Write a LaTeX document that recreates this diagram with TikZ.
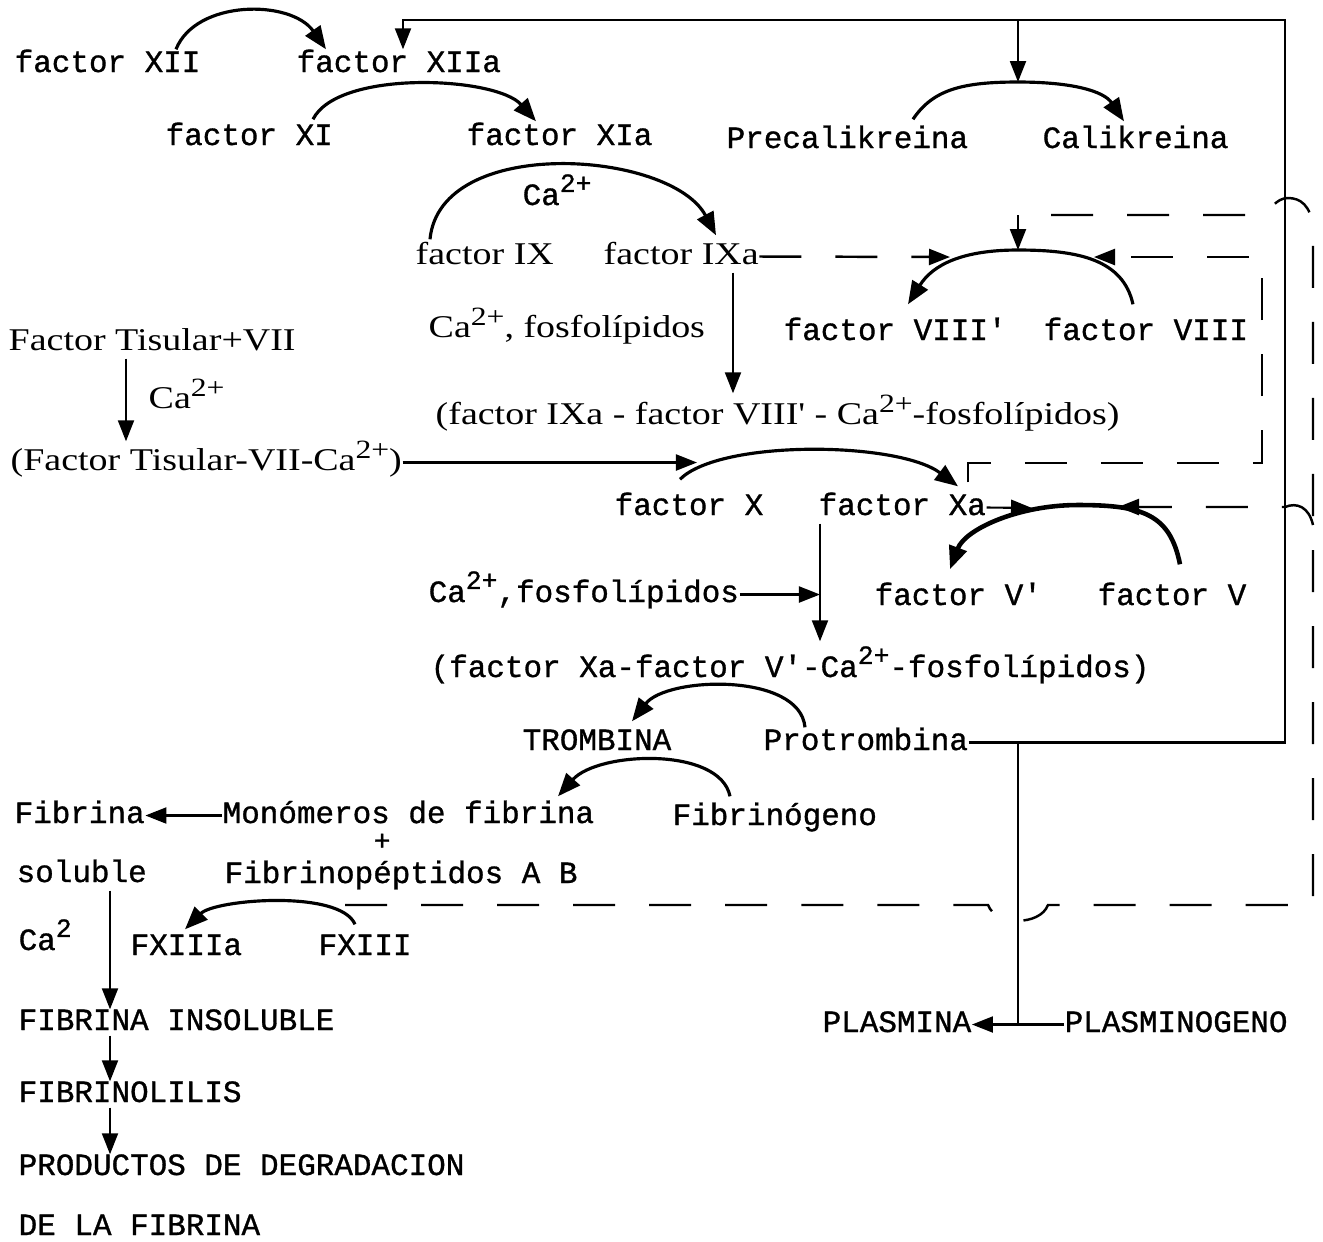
\documentclass[tikz,border=0pt]{standalone}
\usepackage{fontspec}
\newfontfamily\twfam[FakeBold=1]{Liberation Mono}
\newfontfamily\srfam[FakeStretch=1.2]{Liberation Serif}
\newcommand{\twfont}{\twfam\fontsize{8.8}{10}\selectfont}
\newcommand{\srfont}{\srfam\fontsize{9}{10}\selectfont}
\newcommand{\ionsup}[1]{\raisebox{0.8ex}{\fontsize{7.5}{8}\selectfont #1}}
\usetikzlibrary{
  calc,          % Coordinate math
  arrows.meta    % Filled arrow tips
}

\begin{document}
\begin{tikzpicture}[x=0.01cm, y=-0.01cm,
  tw/.style={anchor=base west, inner sep=0pt, text height=0.2cm, text depth=0.05cm, font=\twfont},
  sr/.style={tw, font=\srfont},
  flow/.style={semithick, -{Triangle[length=0.21cm,width=0.16cm]}},
  conv/.style={line width=0.9pt, -{Triangle[length=0.23cm,width=0.18cm]}},
  dflow/.style={line width=0.7pt, dash pattern=on 0.42cm off 0.34cm},
  dflowa/.style={dflow, -{Triangle[length=0.21cm,width=0.16cm]}}]
\useasboundingbox (0,0) rectangle (1323,1241);

\node[tw] (f12) at (14,72) {factor XII};
\node[tw] (f12a) at (296,72) {factor XIIa};
\node[tw] (f11) at (165,145) {factor XI};
\node[tw] (f11a) at (466,145) {factor XIa};
\node[tw] (prek) at (726,148) {Precalikreina};
\node[tw] (kal) at (1042,148) {Calikreina};
\node[tw] (ca1) at (522,205) {Ca\ionsup{2+}};
\node[sr] (f9) at (415,264) {factor IX};
\node[sr] (f9a) at (603,264) {factor IXa};
\node[sr] (cafa) at (428,337) {Ca\ionsup{2+}, fosfolípidos};
\node[tw] (f8p) at (783,340) {factor VIII'};
\node[tw] (f8) at (1043,340) {factor VIII};
\node[sr] (ft7) at (8,350) {Factor Tisular+VII};
\node[sr] (ca2) at (148,408) {Ca\ionsup{2+}};
\node[sr] (ten) at (435,424) {(factor IXa - factor VIII' - Ca\ionsup{2+}-fosfolípidos)};
\node[sr] (ftc) at (10,470) {(Factor Tisular-VII-Ca\ionsup{2+})};
\node[tw] (f10) at (614,515) {factor X};
\node[tw] (f10a) at (818,515) {factor Xa};
\node[tw] (cafb) at (428,602) {Ca\ionsup{2+},fosfolípidos};
\node[tw] (f5p) at (874,605) {factor V'};
\node[tw] (f5) at (1097,605) {factor V};
\node[tw] (pro) at (430,677) {(factor Xa-factor V'-Ca\ionsup{2+}-fosfolípidos)};
\node[tw] (trom) at (522,750) {TROMBINA};
\node[tw] (prot) at (763,750) {Protrombina};
\node[tw] (fibr) at (14,823) {Fibrina};
\node[tw] (mono) at (222,823) {Monómeros de fibrina};
\node[tw] (fbg) at (672,825) {Fibrinógeno};
\node[tw, text height=0.1cm, font=\twfam\fontsize{8}{9}\selectfont] (plus) at (373,850) {+};
\node[tw] (sol) at (16,882) {soluble};
\node[tw] (fpep) at (224,883) {Fibrinopéptidos A B};
\node[tw] (ca3) at (18,950) {Ca\ionsup{2}};
\node[tw] (f13a) at (130,955) {FXIIIa};
\node[tw] (f13) at (318,955) {FXIII};
\node[tw] (fins) at (18,1030) {FIBRINA INSOLUBLE};
\node[tw] (plasm) at (822,1032) {PLASMINA};
\node[tw] (plg) at (1064,1032) {PLASMINOGENO};
\node[tw] (flis) at (18,1102) {FIBRINOLILIS};
\node[tw] (pdf) at (18,1175) {PRODUCTOS DE DEGRADACION};
\node[tw] (pdf2) at (18,1235) {DE LA FIBRINA};

\coordinate (cR) at (1285,20);
\coordinate (kpeak) at (1018,82);
\coordinate (v8peak) at (1018,250);
\coordinate (v8top) at (1018,215);
\coordinate (v8l) at (950,257);
\coordinate (v8r) at (1094,257);
\coordinate (xbox) at (1262,463);
\coordinate (x10l) at (697,462);
\coordinate (v5peak) at (1078,505);
\coordinate (v5l) at (1032,508);
\coordinate (v5r) at (1118,507);
\coordinate (f13hook) at (345,905);
\coordinate (ixdrop) at ([shift={(130,3)}]f9a.south west);
\coordinate (tfdrop) at ([shift={(118,3)}]ft7.south west);
\coordinate (xadrop) at ([shift={(2,3)}]f10a.south west);
\coordinate (soldrop) at ([shift={(94,3)}]sol.south west);

\draw[conv] ([shift={(162,-2)}]f12.north west) .. controls +(20,-50) and +(-35,-50) .. ([shift={(30,-2)}]f12a.north west);
\draw[conv] ([shift={(148,-5)}]f11.north west) .. controls +(25,-50) and +(-40,-45) .. ([shift={(70,-3)}]f11a.north west);
\draw[conv] ([shift={(187,-8)}]prek.north west) .. controls +(20,-30) and +(-55,0) .. (kpeak) .. controls +(55,0) and +(-20,-30) .. ([shift={(82,-6)}]kal.north west);
\draw[conv] ([shift={(15,-4)}]f9.north west) .. controls +(10,-105) and +(-45,-85) .. ([shift={(113,-8)}]f9a.north west);
\draw[conv] ([shift={(90,-15)}]f8.north west) .. controls +(-10,-45) and +(60,0) .. (v8peak) .. controls +(-55,0) and +(25,-40) .. ([shift={(125,-15)}]f8p.north west);
\draw[conv] ([shift={(66,-15)}]f10.north west) .. controls +(40,-40) and +(-60,-45) .. ([shift={(140,-8)}]f10a.north west);
\draw[conv, line width=1.3pt] ([shift={(83,-20)}]f5.north west) .. controls +(-10,-50) and +(65,0) .. (v5peak) .. controls +(-60,0) and +(15,-40) .. ([shift={(76,-15)}]f5p.north west);
\draw[conv] ([shift={(42,-2)}]prot.north west) .. controls +(-5,-55) and +(35,-45) .. ([shift={(110,-8)}]trom.north west);
\draw[conv] ([shift={(58,-8)}]fbg.north west) .. controls +(-10,-50) and +(40,-45) .. ([shift={(336,-6)}]mono.north west);
\draw[conv] ([shift={(37,-10)}]f13.north west) .. controls +(-15,-35) and +(30,-30) .. ([shift={(55,-5)}]f13a.north west);

\draw[flow] (prot.east) -| (cR) -| ([shift={(107,-2)}]f12a.north west);
\draw[flow] (kpeak |- cR) -- (kpeak);
\draw[semithick] (kpeak |- prot.east) -- (kpeak |- plg.west);
\draw[flow] (plg.west) -- (plasm.east);

\draw[flow, shorten >=0.1cm] (ixdrop) -- (ixdrop |- ten.north);
\draw[flow, shorten >=0.08cm] (tfdrop) -- (tfdrop |- ftc.north);
\draw[flow] (ftc.east) -- (ftc.east -| x10l);
\draw[flow, shorten >=0.15cm] (xadrop) -- (xadrop |- pro.north);
\draw[flow] (cafb.east) -- (cafb.east -| xadrop);
\draw[flow] (f10a.east) -- (v5l);
\draw[flow] (mono.west) -- (fibr.east);
\draw[flow] (soldrop) -- (soldrop |- fins.north);
\draw[flow] (soldrop |- fins.south) -- (soldrop |- flis.north);
\draw[flow] (soldrop |- flis.south) -- (soldrop |- pdf.north);

\draw[dflowa] (f9a.east) -- (v8l);
\draw[dflowa] ([shift={(150,-12)}]f10a.north west) |- (xbox) |- (v8r);
\draw[dflow] (f13hook) -- (988,905) .. controls (996,926) and (1040,926) .. (1048,905) -- (1313,905) -- (1313,228) .. controls (1311,205) and (1300,198) .. (1288,198) .. controls (1276,198) and (1271,210) .. (1262,215) -- (v8top);
\draw[flow] (v8top) -- (v8peak);
\draw[dflowa] (1313,525) .. controls (1309,507) and (1297,502) .. (1285,507) -- (v5r);
\end{tikzpicture}
\end{document}
